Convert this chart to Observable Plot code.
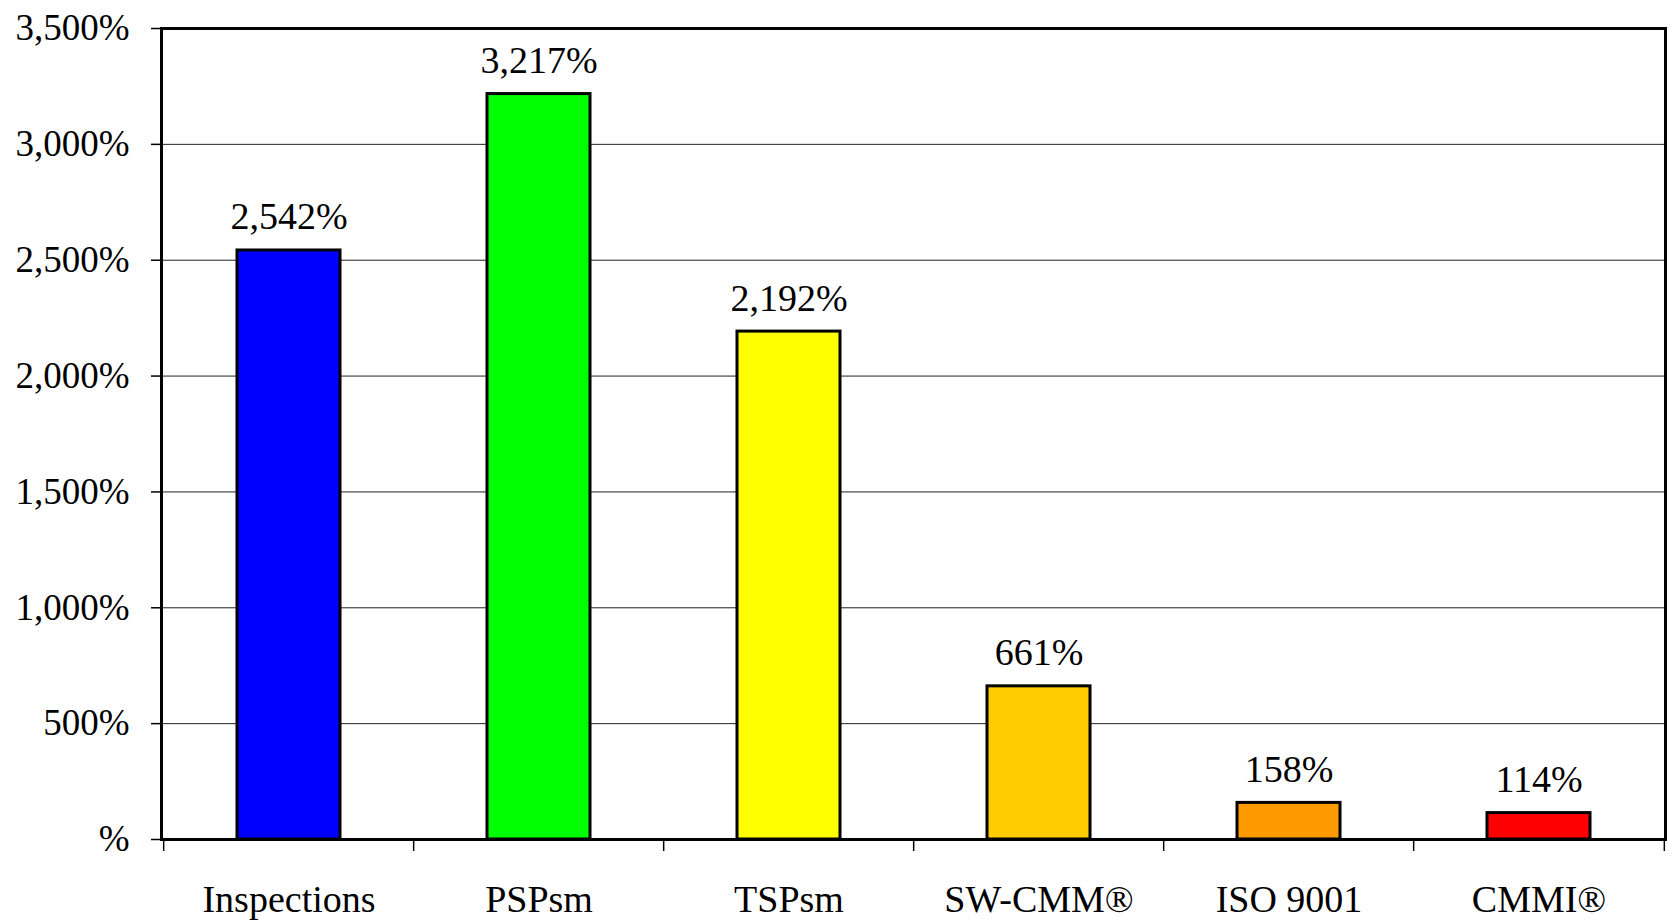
<!DOCTYPE html>
<html>
<head>
<meta charset="utf-8">
<script src="https://cdn.jsdelivr.net/npm/d3@7"></script>
<script src="https://cdn.jsdelivr.net/npm/@observablehq/plot@0.6"></script>
<style>
  html, body { margin: 0; padding: 0; background: #fff; }
  #chart svg { display: block; }
</style>
</head>
<body>
<div id="chart"></div>
<script>
const categories = ["Inspections", "PSPsm", "TSPsm", "SW-CMM®", "ISO 9001", "CMMI®"];
const values = [2542, 3217, 2192, 661, 158, 114];
const colors = ["#0000FF", "#00FF00", "#FFFF00", "#FFCC00", "#FF9900", "#FF0000"];
const yTicks = [0, 500, 1000, 1500, 2000, 2500, 3000, 3500];

const data = categories.map((c, i) => ({category: c, value: values[i], color: colors[i]}));

const W = 1674, H = 920;
const mL = 161, mR = 9, mT = 28, mB = 81;
const step = (W - mL - mR) / categories.length;
const font = "'Liberation Serif', 'Times New Roman', serif";
const fmt = d => d === 0 ? "%" : d3.format(",")(d) + "%";

const chart = Plot.plot({
  width: W,
  height: H,
  marginLeft: mL,
  marginRight: mR,
  marginTop: mT,
  marginBottom: mB,
  style: {fontFamily: font, background: "#fff", color: "#000"},
  x: {domain: categories, paddingInner: 0.59, paddingOuter: 0.295, label: null},
  y: {domain: [0, 3500], label: null},
  marks: [
    Plot.gridY(yTicks, {stroke: "#222", strokeOpacity: 1, strokeWidth: 1}),
    Plot.barY(data, {x: "category", y: "value", fill: "color", stroke: "#000", strokeWidth: 3}),
    Plot.text(data, {
      x: "category", y: "value", text: d => fmt(d.value),
      lineAnchor: "bottom", dy: -21, fontSize: 38, fill: "#000"
    }),
    Plot.frame({stroke: "#000", strokeWidth: 3}),
    Plot.axisY({
      ticks: yTicks, tickFormat: fmt, tickSize: 10, tickPadding: 22,
      fontSize: 37, stroke: "#000", strokeWidth: 1.5, label: null
    }),
    Plot.axisX({tickSize: 0, tickPadding: 46, fontSize: 38, label: null}),
    Plot.ruleX(categories, {x: d => d, y1: 0, y2: 0, insetBottom: -12, dx: -step / 2, stroke: "#000", strokeWidth: 1.5}),
    Plot.ruleX(categories.slice(-1), {x: d => d, y1: 0, y2: 0, insetBottom: -12, dx: step / 2, stroke: "#000", strokeWidth: 1.5})
  ]
});

document.getElementById("chart").appendChild(chart);
</script>
</body>
</html>
